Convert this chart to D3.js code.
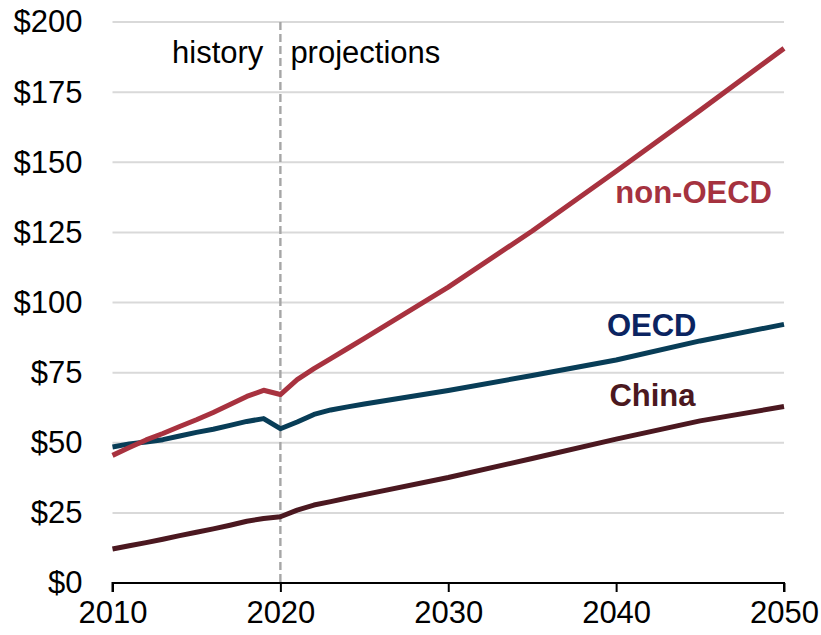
<!DOCTYPE html>
<html>
<head>
<meta charset="utf-8">
<script src="https://cdn.jsdelivr.net/npm/d3@7"></script>
<style>
  html, body { margin: 0; padding: 0; background: #fff; }
  svg { display: block; font-family: Arial, "Liberation Sans", sans-serif; }
</style>
</head>
<body>
<svg id="chart" width="821" height="635"></svg>
<script>
// ---- data ----
const years      = [2010, 2011, 2012, 2013, 2014, 2015, 2016, 2017, 2018, 2019, 2020, 2021, 2022, 2023, 2024, 2025, 2030, 2035, 2040, 2045, 2050];
const nonOECD    = [45.5, 48.3, 51.0, 53.3, 55.8, 58.2, 60.8, 63.6, 66.5, 68.7, 67.2, 72.5, 76.4, 80.0, 83.6, 87.2, 105.5, 125.5, 146.8, 168.5, 190.6];
const OECD       = [48.5, 49.6, 50.3, 51.1, 52.4, 53.7, 54.8, 56.2, 57.6, 58.6, 55.0, 57.4, 60.1, 61.7, 62.8, 63.8, 68.6, 74.0, 79.5, 86.3, 92.2];
const China      = [12.1, 13.3, 14.4, 15.6, 16.9, 18.1, 19.3, 20.6, 22.0, 23.0, 23.6, 26.0, 27.8, 29.0, 30.3, 31.5, 37.6, 44.4, 51.3, 57.8, 62.9];
const seriesNames = ["non-OECD", "OECD", "China"];
const yTicks     = [0, 25, 50, 75, 100, 125, 150, 175, 200];
const xTicks     = [2010, 2020, 2030, 2040, 2050];
const dividerYear = 2020;

// ---- layout ----
const W = 821, H = 635;
const FS = 31;
const m = { left: 112.5, right: 37, top: 22, bottom: 52 };
const svg = d3.select("#chart");
const x = d3.scaleLinear().domain([2010, 2050]).range([m.left, W - m.right]);
const y = d3.scaleLinear().domain([0, 200]).range([H - m.bottom, m.top]);

// gridlines
svg.append("g")
  .selectAll("line")
  .data(yTicks.filter(d => d > 0))
  .join("line")
  .attr("x1", x(2010)).attr("x2", x(2050))
  .attr("y1", d => y(d)).attr("y2", d => y(d))
  .attr("stroke", "#d9d9d9").attr("stroke-width", 2);

// y axis labels
const yAxis = d3.axisLeft(y).tickValues(yTicks).tickFormat(d => "$" + d).tickSize(0).tickPadding(30);
const gy = svg.append("g").attr("transform", `translate(${m.left},0)`).call(yAxis);
gy.select(".domain").remove();
gy.selectAll("text").attr("font-size", FS).attr("fill", "#000")
  .attr("font-family", "Arial, 'Liberation Sans', sans-serif");

// dashed divider
svg.append("line")
  .attr("x1", x(dividerYear)).attr("x2", x(dividerYear))
  .attr("y1", y(200)).attr("y2", y(0))
  .attr("stroke", "#a6a6a6").attr("stroke-width", 2.4)
  .attr("stroke-dasharray", "8,4");

// x axis
const xAxis = d3.axisBottom(x).tickValues(xTicks).tickFormat(d3.format("d")).tickSize(9).tickPadding(9);
const gx = svg.append("g").attr("transform", `translate(0,${y(0)})`).call(xAxis);
gx.select(".domain").attr("stroke", "#000").attr("stroke-width", 2)
  .attr("d", `M${x(2010)},9V0H${x(2050)}V9`);
gx.selectAll(".tick line").attr("stroke", "#000").attr("stroke-width", 2);
gx.selectAll("text").attr("font-size", FS).attr("fill", "#000")
  .attr("font-family", "Arial, 'Liberation Sans', sans-serif");

// lines
const series = [
  { name: seriesNames[0], values: nonOECD, color: "#a8323f" },
  { name: seriesNames[1], values: OECD,    color: "#083d57" },
  { name: seriesNames[2], values: China,   color: "#4b1820" }
];
const line = d3.line().x((d, i) => x(years[i])).y(d => y(d));
svg.append("g").selectAll("path")
  .data(series.slice().reverse())
  .join("path")
  .attr("d", d => line(d.values))
  .attr("fill", "none")
  .attr("stroke", d => d.color)
  .attr("stroke-width", 5)
  .attr("stroke-linejoin", "round");

// period labels
svg.append("text").attr("x", x(dividerYear) - 17).attr("y", 63)
  .attr("text-anchor", "end").attr("font-size", FS).attr("fill", "#000").text("history");
svg.append("text").attr("x", x(dividerYear) + 10).attr("y", 63)
  .attr("text-anchor", "start").attr("font-size", FS).attr("fill", "#000").text("projections");

// series labels
const labels = [
  { text: seriesNames[0], xv: 2039.95, yv: 135.4, color: "#a5323f" },
  { text: seriesNames[1], xv: 2039.45, yv: 88.1,  color: "#0b2461" },
  { text: seriesNames[2], xv: 2039.6,  yv: 63.0,  color: "#4b1820" }
];
svg.append("g").selectAll("text")
  .data(labels)
  .join("text")
  .attr("x", d => x(d.xv)).attr("y", d => y(d.yv))
  .attr("font-size", FS).attr("font-weight", "bold")
  .attr("fill", d => d.color)
  .text(d => d.text);
</script>
</body>
</html>
